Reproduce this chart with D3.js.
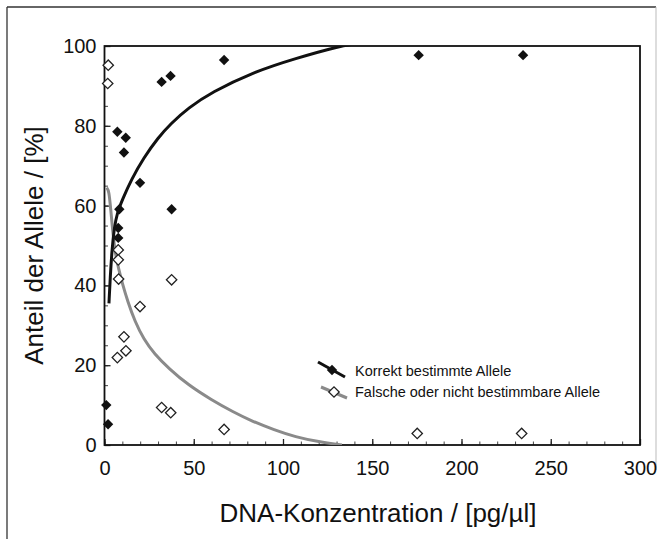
<!DOCTYPE html>
<html><head><meta charset="utf-8">
<script src="https://cdn.jsdelivr.net/npm/d3@7"></script>
<style>body{margin:0;background:#fff}svg{display:block}text{font-family:"Liberation Sans",Arial,sans-serif;fill:#111}</style>
</head><body>
<script>
// Data
const correctX = [1, 2, 7.2, 7.7, 7.7, 8.3, 10.9, 11.9, 19.9, 32, 37, 37.6, 67, 176, 234.5];
const correctY = [10, 5.2, 78.5, 54.4, 51.9, 59.1, 73.3, 77, 65.7, 91, 92.5, 59.1, 96.5, 97.7, 97.7];
const wrongX = [2.1, 1.8, 7.7, 7.7, 7.9, 37.6, 19.9, 10.9, 12, 7.2, 32, 37.1, 67, 175.2, 233.7];
const wrongY = [95.2, 90.6, 48.9, 46.4, 41.6, 41.4, 34.7, 27.1, 23.6, 21.9, 9.4, 8.1, 3.9, 2.9, 2.9];
const fitCorrectX = [2.5, 3.2, 4.2, 5.5, 7, 10, 15, 22, 30, 37, 47, 60, 83, 107, 132, 140];
const fitCorrectY = [35.5, 42, 49, 54.5, 58, 61.5, 66.5, 72, 77, 80.5, 84.5, 88.4, 93.4, 96.9, 100, 100.5];
const fitWrongX = [1.2, 2.5, 3.5, 4.5, 6, 8, 10, 13, 17, 22, 28, 36, 47, 60, 72, 83, 95, 107, 120, 133];
const fitWrongY = [64.5, 63.8, 59, 54, 48, 44, 40.5, 36, 31, 26.5, 22.8, 19.2, 15, 11.3, 8.3, 5.9, 3.8, 2, 0.8, 0];
const xTicks = [0, 50, 100, 150, 200, 250, 300];
const yTicks = [0, 20, 40, 60, 80, 100];
const legendLabels = ["Korrekt bestimmte Allele", "Falsche oder nicht bestimmbare Allele"];
const xTitle = "DNA-Konzentration / [pg/µl]";
const yTitle = "Anteil der Allele / [%]";

const W = 662, H = 539;
const L = 104.5, R = 640, T = 46, B = 445;
const FONT = '"Liberation Sans",Arial,sans-serif';
const svg = d3.select("body").append("svg").attr("width", W).attr("height", H);

// outer border
svg.append("line").attr("x1",7).attr("y1",7).attr("x2",7).attr("y2",H).attr("stroke","#333").attr("stroke-width",1.3);
svg.append("line").attr("x1",7).attr("y1",7).attr("x2",656).attr("y2",7).attr("stroke","#333").attr("stroke-width",1.3);
svg.append("line").attr("x1",656).attr("y1",7).attr("x2",656).attr("y2",470).attr("stroke","#bbb").attr("stroke-width",1);

const x = d3.scaleLinear().domain([0,300]).range([L,R]);
const y = d3.scaleLinear().domain([0,100]).range([B,T]);

svg.append("defs").append("clipPath").attr("id","clip").append("rect")
  .attr("x",L).attr("y",T).attr("width",R-L).attr("height",B-T);

// axes with inward ticks
const gx = svg.append("g").attr("transform",`translate(0,${B})`);
gx.call(d3.axisBottom(x).tickValues(d3.range(0,301,10)).tickSize(-3.5).tickFormat(""));
gx.select(".domain").remove();
gx.selectAll("line").attr("stroke","#444").attr("stroke-width",1);
const gx2 = svg.append("g").attr("transform",`translate(0,${B})`);
gx2.call(d3.axisBottom(x).tickValues(xTicks).tickSize(-6).tickPadding(16).tickFormat(d3.format("d")));
gx2.select(".domain").remove();
gx2.selectAll("line").attr("stroke","#222").attr("stroke-width",1.3);
gx2.selectAll("text").attr("font-size",20).attr("fill","#111").style("font-family",FONT);

const gy = svg.append("g").attr("transform",`translate(${L},0)`);
gy.call(d3.axisLeft(y).tickValues(d3.range(0,101,5)).tickSize(-3.5).tickFormat(""));
gy.select(".domain").remove();
gy.selectAll("line").attr("stroke","#444");
const gy2 = svg.append("g").attr("transform",`translate(${L},0)`);
gy2.call(d3.axisLeft(y).tickValues(yTicks).tickSize(-6).tickPadding(8).tickFormat(d3.format("d")));
gy2.select(".domain").remove();
gy2.selectAll("line").attr("stroke","#222").attr("stroke-width",1.3);
gy2.selectAll("text").attr("font-size",20).attr("fill","#111").style("font-family",FONT);

// frame
svg.append("rect").attr("x",L).attr("y",T).attr("width",R-L).attr("height",B-T)
  .attr("fill","none").attr("stroke","#111").attr("stroke-width",1.8);

// fit curves
const line = d3.line().x(d=>x(d[0])).y(d=>y(d[1])).curve(d3.curveBasis);
const plot = svg.append("g").attr("clip-path","url(#clip)");
plot.append("path").datum(fitWrongX.map((v,i)=>[v,fitWrongY[i]])).attr("d",line)
  .attr("fill","none").attr("stroke","#8a8a8a").attr("stroke-width",3);
plot.append("path").datum(fitCorrectX.map((v,i)=>[v,fitCorrectY[i]])).attr("d",line)
  .attr("fill","none").attr("stroke","#111").attr("stroke-width",3);

// points
const sym = d3.symbol().type(d3.symbolSquare).size(54);
svg.append("g").selectAll("path").data(wrongX.map((v,i)=>[v,wrongY[i]])).join("path")
  .attr("d",sym).attr("transform",d=>`translate(${x(d[0])},${y(d[1])}) rotate(45)`)
  .attr("fill","#fff").attr("stroke","#222").attr("stroke-width",1.3);
svg.append("g").selectAll("path").data(correctX.map((v,i)=>[v,correctY[i]])).join("path")
  .attr("d",sym).attr("transform",d=>`translate(${x(d[0])},${y(d[1])}) rotate(45)`)
  .attr("fill","#111");

// legend
const leg = svg.append("g");
leg.append("line").attr("x1",318).attr("y1",362).attr("x2",345).attr("y2",377).attr("stroke","#111").attr("stroke-width",3);
leg.append("path").attr("d",sym).attr("transform","translate(332,370) rotate(45)").attr("fill","#111");
leg.append("line").attr("x1",321).attr("y1",387).attr("x2",347).attr("y2",398).attr("stroke","#8a8a8a").attr("stroke-width",3);
leg.append("path").attr("d",sym).attr("transform","translate(334,392) rotate(45)").attr("fill","#fff").attr("stroke","#222").attr("stroke-width",1.3);
leg.selectAll("text.l").data(legendLabels).join("text").attr("class","l")
  .attr("x",355).attr("y",(d,i)=>376+i*21).attr("font-size",14.5).text(d=>d);

// titles
svg.append("text").attr("x",378).attr("y",522).attr("text-anchor","middle").attr("font-size",26).text(xTitle);
svg.append("text").attr("transform",`translate(43,${(T+B)/2}) rotate(-90)`).attr("text-anchor","middle").attr("font-size",26).text(yTitle);
</script>
</body></html>
